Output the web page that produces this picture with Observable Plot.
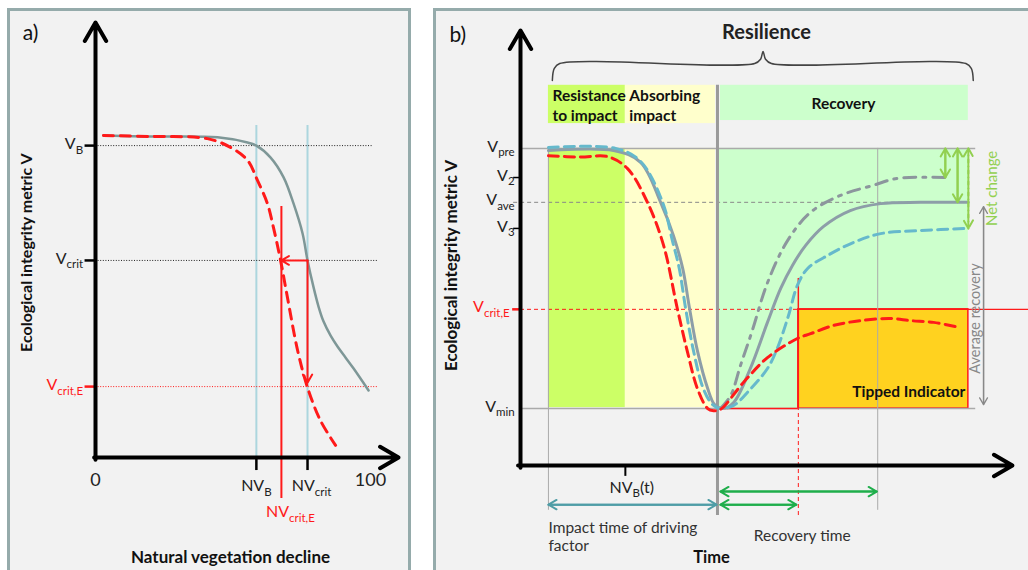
<!DOCTYPE html>
<html><head><meta charset="utf-8">
<script src="https://cdn.jsdelivr.net/npm/d3@7"></script>
<script src="https://cdn.jsdelivr.net/npm/@observablehq/plot@0.6"></script>
<style>
html,body{margin:0;padding:0;background:#fff;}
#wrap{position:relative;width:1028px;height:570px;overflow:hidden;}
.panel{position:absolute;background:#f2f2f2;border:3px solid #95abab;box-sizing:border-box;}
#wrap svg{position:absolute;left:0;top:0;}
</style></head><body><div id="wrap">
<div class="panel" style="left:7px;top:8px;width:404px;height:600px"></div>
<div class="panel" style="left:433px;top:8px;width:640px;height:600px"></div>
</div>
<script>
const FONT = "Lato, 'Open Sans', sans-serif";
const RED = "#ff1a1a";

// ---------- Panel a data ----------
const aLevelNames = ["V_{B}", "V_{crit}", "V_{crit,E}"];
const aLevels = [71.7, 45.3, 16.3];
const aNVNames = ["NV_{B}", "NV_{crit}"];
const aNV = [58.5, 77.1];
const aNVcritEName = "NV_{crit,E}";
const aNVcritE = 67.6;
const aXTicks = [0, 100];
const aGrayX = [2.9, 20, 44.4, 55.3, 58.5, 63.6, 68.4, 72, 75.3, 77.1, 79.3, 81.1, 82.9, 85.5, 88, 90.9, 93.8, 99.3];
const aGrayY = [74, 73.8, 73.6, 72.4, 71.7, 69, 64.4, 58.4, 51.5, 45.3, 39.1, 34.7, 31.3, 28, 25.5, 23, 20.5, 15.4];
const aRedX = [2.9, 20, 40.7, 49.1, 55.3, 58.9, 62.5, 64.7, 67.3, 69.8, 73.5, 77.1, 81.8, 87.3];
const aRedY = [74, 73.8, 73.3, 71.3, 68.3, 63.7, 58.4, 52.9, 45.3, 36.8, 24.6, 16.1, 8.5, 2.8];

// ---------- Panel b data ----------
const bLevelNames = ["V_{pre}", "V_{2}", "V_{ave}", "V_{3}", "V_{crit,E}", "V_{min}"];
const bLevels = [72.9, 66.2, 60.5, 54.5, 35.9, 13.1];
const tStart = 5.7, tNVB = 21.4, tImpact = 40.2, tTip = 56.7, tRecov = 72.9, tEnd = 91.4;
const phaseNames = ["Resistance\nto impact", "Absorbing\nimpact", "Recovery"];
const phaseStart = [5.7, 21.4, 40.8];
const phaseEnd = [21.4, 39.8, 91.4];
const bSolidX = [5.7, 19, 24.5, 28.6, 31.2, 33.1, 34.5, 36.1, 38.2, 39.6, 41.2, 43.5, 46.9, 50.4, 53.1, 55.5, 58.2, 61.8, 67.3, 73.5, 81.6, 91.4];
const bSolidY = [72.4, 72.4, 69.7, 60.5, 52.9, 45.3, 36.1, 26.4, 17.7, 14, 13.1, 14.5, 22.3, 32.9, 40.7, 46, 50.6, 54.9, 58.6, 60.2, 60.5, 60.5];
const bBlueX = [5.7, 19.4, 24.5, 29, 31, 32.4, 33.7, 35.3, 37.3, 39.2, 40.8, 43.5, 46.3, 50.4, 52.4, 54.7, 56.5, 58.6, 62.7, 68, 73.5, 81.6, 91.4];
const bBlueY = [73.1, 72.9, 69.9, 60.5, 51.7, 45.3, 36.1, 26.4, 17.7, 14, 13.1, 13.8, 16.8, 22.3, 26.9, 34.5, 41.4, 45.3, 48.3, 51.3, 53.3, 54, 54.5];
const bDashDotX = [40.8, 42.9, 44.9, 47.3, 50.4, 54.5, 59.2, 65.3, 72, 76.9, 86.7];
const bDashDotY = [13.1, 16.1, 23, 31, 42, 51.7, 58.2, 62.1, 64.4, 66, 66.2];
const bRedX = [5.7, 12.2, 17.8, 21.8, 25.9, 29.2, 32, 34.1, 36.1, 38.2, 39.4, 40.8, 45.5, 50.4, 56.5, 59.2, 63.9, 69.4, 75.5, 79.6, 84.3, 89.8];
const bRedY = [71.2, 70.9, 71.0, 68.3, 60.5, 50.6, 36.1, 26, 17.7, 13.1, 12.6, 12.9, 19.1, 24.8, 29.2, 30.3, 32.2, 33.3, 33.8, 33.3, 32.9, 31.7];
const braceX = [6.5, 6.9, 8.0, 47.8, 49.0, 49.5, 50.0, 51.2, 90.9, 92.0, 92.4];
const braceY = [88.5, 91.3, 92.4, 92.4, 93.4, 95.2, 93.4, 92.4, 92.4, 91.3, 88.5];

const rows = (xs, ys) => xs.map((x, i) => ({x, y: ys[i]}));
const dbl = (x1, y1, x2, y2) => [{x1, y1, x2, y2}, {x1: x2, y1: y2, x2: x1, y2: y1}];

function applySubs(svg) {
  const NS = "http://www.w3.org/2000/svg";
  svg.querySelectorAll("text").forEach(el => {
    const targets = el.querySelector("tspan") ? [...el.querySelectorAll("tspan")] : [el];
    const fs = parseFloat(getComputedStyle(el).fontSize) || 15;
    targets.forEach(n => {
      const t = n.textContent;
      if (!t.includes("_{")) return;
      n.textContent = "";
      let down = false;
      t.split(/(_\{[^}]*\})/).filter(Boolean).forEach(p => {
        const ts = document.createElementNS(NS, "tspan");
        if (p.startsWith("_{")) {
          ts.textContent = p.slice(2, -1);
          ts.setAttribute("font-size", (fs * 0.72).toFixed(1));
          ts.setAttribute("dy", (fs * 0.3).toFixed(1));
          down = true;
        } else {
          ts.textContent = p;
          if (down) { ts.setAttribute("dy", (-fs * 0.3).toFixed(1)); down = false; }
        }
        n.appendChild(ts);
      });
    });
  });
}

const common = {
  width: 1028, height: 570, margin: 0,
  color: {type: "identity"},
  style: {background: "transparent", overflow: "visible", fontFamily: FONT}
};
const CURVE = "catmull-rom";

// ---------- Panel a ----------
const A = Plot.plot({
  ...common,
  x: {domain: [0, 100], range: [95, 370], axis: null},
  y: {domain: [0, 100], range: [457, 22], axis: null},
  marks: [
    Plot.ruleX(aNV, {x: d => d, y1: 0, y2: 76.3, stroke: "#acd6de", strokeWidth: 2}),
    Plot.ruleY([aLevels[0]], {y: d => d, x1: 0, x2: 101, stroke: "#222", strokeWidth: 1, strokeDasharray: "1 1.6"}),
    Plot.ruleY([aLevels[1]], {y: d => d, x1: 0, x2: 103, stroke: "#222", strokeWidth: 1, strokeDasharray: "1 1.6"}),
    Plot.ruleY([aLevels[2]], {y: d => d, x1: 0, x2: 103, stroke: RED, strokeWidth: 1, strokeDasharray: "1 1.6"}),
    Plot.ruleY(aLevels.slice(0, 2), {y: d => d, x1: -3.8, x2: 0, stroke: "#000", strokeWidth: 2.5}),
    Plot.ruleY([aLevels[2]], {y: d => d, x1: -3.8, x2: 0, stroke: RED, strokeWidth: 2.5}),
    Plot.ruleX(aNV, {x: d => d, y1: 0, y2: -3, stroke: "#000", strokeWidth: 2.5}),
    Plot.line(rows(aGrayX, aGrayY), {x: "x", y: "y", curve: CURVE, stroke: "#7e9797", strokeWidth: 2.5}),
    Plot.line(rows(aRedX, aRedY), {x: "x", y: "y", curve: CURVE, stroke: RED, strokeWidth: 3, strokeDasharray: "10 7"}),
    Plot.ruleX([aNVcritE], {x: d => d, y1: -9.4, y2: 57.7, stroke: RED, strokeWidth: 2}),
    Plot.arrow([0], {x1: aNV[1], y1: aLevels[1], x2: aNVcritE, y2: aLevels[1], stroke: RED, strokeWidth: 2, headLength: 7}),
    Plot.arrow([0], {x1: aNV[1], y1: aLevels[1], x2: aNV[1], y2: 17.2, stroke: RED, strokeWidth: 2, headLength: 7}),
    Plot.arrow([0], {x1: 0, y1: -0.5, x2: 0, y2: 100, stroke: "#000", strokeWidth: 4}),
    Plot.arrow([0], {x1: -0.5, y1: 0, x2: 110.2, y2: 0, stroke: "#000", strokeWidth: 4}),
    Plot.text(["a)"], {x: -26.5, y: 97.5, text: d => d, textAnchor: "start", fontSize: 21, fill: "#111"}),
    Plot.text(aLevelNames.slice(0, 2), {x: -4.5, y: (d, i) => aLevels[i], dy: -2, text: d => d, textAnchor: "end", fontSize: 16, fill: "#222"}),
    Plot.text([aLevelNames[2]], {x: -4.5, y: aLevels[2], dy: -2, text: d => d, textAnchor: "end", fontSize: 16, fill: RED}),
    Plot.text(aXTicks, {x: d => d, y: -5.3, text: d => String(d), fontSize: 18, fill: "#222"}),
    Plot.text([aNVNames[0]], {x: aNV[0], y: -7, dy: -2, text: d => d, fontSize: 16, fill: "#222"}),
    Plot.text([aNVNames[1]], {x: aNV[1], y: -7, dx: 4, dy: -2, text: d => d, fontSize: 16, fill: "#222"}),
    Plot.text([aNVcritEName], {x: aNVcritE, y: -12.9, dx: 9, dy: -2, text: d => d, fontSize: 16, fill: RED}),
    Plot.text(["Natural vegetation decline"], {x: 49.1, y: -23, text: d => d, fontSize: 17, fontWeight: "bold", fill: "#111"}),
    Plot.text(["Ecological integrity metric V"], {x: -25.1, y: 47.1, rotate: -90, text: d => d, fontSize: 16, fontWeight: "bold", fill: "#111"})
  ]
});

// ---------- Panel b ----------
const headerRows = phaseNames.map((n, i) => ({
  name: n, x1: phaseStart[i], x2: phaseEnd[i], y1: i === 2 ? 79.3 : 78.6, y2: 87.4,
  fill: ["#ccff66", "#ffffcc", "#ccffcc"][i]
}));
const bodyRows = [
  {x1: tStart, x2: tNVB, y1: 13.3, y2: bLevels[0], fill: "#ccff66"},
  {x1: tNVB, x2: 39.8, y1: 13.3, y2: bLevels[0], fill: "#ffffcc"},
  {x1: tImpact, x2: tEnd, y1: bLevels[5], y2: bLevels[0], fill: "#ccffcc"}
];

const B = Plot.plot({
  ...common,
  x: {domain: [0, 100], range: [520, 1010], axis: null},
  y: {domain: [0, 100], range: [465, 30], axis: null},
  marks: [
    Plot.rect(headerRows, {x1: "x1", x2: "x2", y1: "y1", y2: "y2", fill: "fill"}),
    Plot.rect(bodyRows, {x1: "x1", x2: "x2", y1: "y1", y2: "y2", fill: "fill"}),
    Plot.rect([0], {x1: tTip, x2: tEnd, y1: bLevels[5], y2: bLevels[4], fill: "#ffd21f", stroke: RED, strokeWidth: 1.5}),
    Plot.ruleY([bLevels[0], bLevels[5]], {y: d => d, x1: 0, x2: 92.9, stroke: "#aaa", strokeWidth: 1.5}),
    Plot.ruleY([bLevels[2]], {y: d => d, x1: -1.4, x2: tEnd, stroke: "#888", strokeWidth: 1, strokeDasharray: "4 3"}),
    Plot.ruleY([bLevels[4]], {y: d => d, x1: 0, x2: tTip, stroke: RED, strokeWidth: 1, strokeDasharray: "4 3"}),
    Plot.ruleY([bLevels[4]], {y: d => d, x1: tTip, x2: 103.7, stroke: RED, strokeWidth: 1.2}),
    Plot.ruleY([bLevels[1], bLevels[3]], {y: d => d, x1: -1.4, x2: 0, stroke: "#000", strokeWidth: 1.5}),
    Plot.ruleY([bLevels[4]], {y: d => d, x1: -1.6, x2: 0, stroke: RED, strokeWidth: 2.5}),
    Plot.ruleX([tStart, tRecov], {x: d => d, y1: -10.3, y2: bLevels[0], stroke: "#aaa", strokeWidth: 1}),
    Plot.ruleX([tImpact], {x: d => d, y1: -11.5, y2: 87.4, stroke: "#9a9a9a", strokeWidth: 3}),
    Plot.ruleX([tTip], {x: d => d, y1: -11.5, y2: bLevels[5], stroke: RED, strokeWidth: 1, strokeDasharray: "4 3"}),
    Plot.ruleX([tTip], {x: d => d, y1: bLevels[5], y2: 43, stroke: RED, strokeWidth: 1.5}),
    Plot.ruleY([bLevels[5]], {y: d => d, x1: 40.8, x2: tTip, stroke: RED, strokeWidth: 1.5}),
    Plot.ruleX([tNVB], {x: d => d, y1: 0, y2: -2.5, stroke: "#000", strokeWidth: 2}),
    Plot.line(rows(bSolidX, bSolidY), {x: "x", y: "y", curve: CURVE, stroke: "#8d9ea8", strokeWidth: 3}),
    Plot.line(rows(bDashDotX, bDashDotY), {x: "x", y: "y", curve: CURVE, stroke: "#8c969d", strokeWidth: 3, strokeDasharray: "12 7 3 7"}),
    Plot.line(rows(bBlueX, bBlueY), {x: "x", y: "y", curve: CURVE, stroke: "#66b9cc", strokeWidth: 3, strokeDasharray: "10 6"}),
    Plot.line(rows(bRedX, bRedY), {x: "x", y: "y", curve: CURVE, stroke: RED, strokeWidth: 3, strokeDasharray: "10 6"}),
    Plot.arrow([0], {x1: 0, y1: -0.5, x2: 0, y2: 100, stroke: "#000", strokeWidth: 4}),
    Plot.arrow([0], {x1: -0.5, y1: 0, x2: 100.4, y2: 0, stroke: "#000", strokeWidth: 4}),
    Plot.line(rows(braceX, braceY), {x: "x", y: "y", curve: "catmull-rom", stroke: "#444", strokeWidth: 1.5}),
    Plot.arrow(dbl(tStart, -9, 40.0, -9), {x1: "x1", y1: "y1", x2: "x2", y2: "y2", stroke: "#4f9da6", strokeWidth: 2, headLength: 7}),
    Plot.arrow(dbl(40.8, -6, 72.7, -6), {x1: "x1", y1: "y1", x2: "x2", y2: "y2", stroke: "#1fae4b", strokeWidth: 2, headLength: 7}),
    Plot.arrow(dbl(40.8, -9, 56.3, -9), {x1: "x1", y1: "y1", x2: "x2", y2: "y2", stroke: "#1fae4b", strokeWidth: 2, headLength: 7}),
    Plot.arrow(dbl(86.7, bLevels[0], 86.7, bLevels[1]), {x1: "x1", y1: "y1", x2: "x2", y2: "y2", stroke: "#92d050", strokeWidth: 2, headLength: 7}),
    Plot.arrow(dbl(89.2, bLevels[0], 89.2, bLevels[2]), {x1: "x1", y1: "y1", x2: "x2", y2: "y2", stroke: "#92d050", strokeWidth: 2, headLength: 7}),
    Plot.arrow(dbl(91.4, bLevels[0], 91.4, bLevels[3]), {x1: "x1", y1: "y1", x2: "x2", y2: "y2", stroke: "#92d050", strokeWidth: 2, headLength: 7, strokeDasharray: "7 4"}),
    Plot.arrow(dbl(94.5, 59.5, 94.5, 14), {x1: "x1", y1: "y1", x2: "x2", y2: "y2", stroke: "#888", strokeWidth: 1.3, headLength: 9}),
    Plot.text(["b)"], {x: -14.5, y: 98.9, text: d => d, textAnchor: "start", fontSize: 21, fill: "#111"}),
    Plot.text(["Resilience"], {x: 50.2, y: 99.5, text: d => d, fontSize: 20, fontWeight: "bold", fill: "#222"}),
    Plot.text(headerRows.slice(0, 2), {x: "x1", y: 82.9, dx: 4, text: "name", textAnchor: "start", lineAnchor: "middle", lineHeight: 1.25, fontSize: 15.5, fontWeight: "bold", fill: "#111"}),
    Plot.text([phaseNames[2]], {x: 65.9, y: 83.2, text: d => d, fontSize: 15.5, fontWeight: "bold", fill: "#111"}),
    Plot.text(["Tipped Indicator"], {x: 90.8, y: 17, text: d => d, textAnchor: "end", fontSize: 15.5, fontWeight: "bold", fill: "#111"}),
    Plot.text(bLevelNames.filter((d, i) => i !== 4), {x: -1.2, y: (d, i) => bLevels.filter((v, j) => j !== 4)[i], dy: -2, text: d => d, textAnchor: "end", fontSize: 16, fill: "#222"}),
    Plot.text([bLevelNames[4]], {x: -2.2, y: bLevels[4], dy: -2, text: d => d, textAnchor: "end", fontSize: 16, fill: RED}),
    Plot.text(["NV_{B}(t)"], {x: 22.7, y: -5.5, dy: -2, text: d => d, fontSize: 16, fill: "#222"}),
    Plot.text(["Impact time of driving\nfactor"], {x: tStart, y: -16.3, text: d => d, textAnchor: "start", lineAnchor: "middle", lineHeight: 1.18, fontSize: 15.5, fill: "#333"}),
    Plot.text(["Recovery time"], {x: 47.6, y: -16.3, text: d => d, textAnchor: "start", fontSize: 15.5, fill: "#333"}),
    Plot.text(["Time"], {x: 39, y: -21.1, text: d => d, fontSize: 16.5, fontWeight: "bold", fill: "#111"}),
    Plot.text(["Ecological integrity metric V"], {x: -14.1, y: 46, rotate: -90, text: d => d, fontSize: 17, fontWeight: "bold", fill: "#111"}),
    Plot.text(["Net change"], {x: 96.3, y: 63.7, rotate: -90, text: d => d, fontSize: 15, fill: "#92d050"}),
    Plot.text(["Average recovery"], {x: 92.9, y: 33.8, rotate: -90, text: d => d, fontSize: 14.5, fill: "#888"})
  ]
});

const wrap = document.getElementById("wrap");
wrap.appendChild(B);
wrap.appendChild(A);
applySubs(A);
applySubs(B);
</script></body></html>
